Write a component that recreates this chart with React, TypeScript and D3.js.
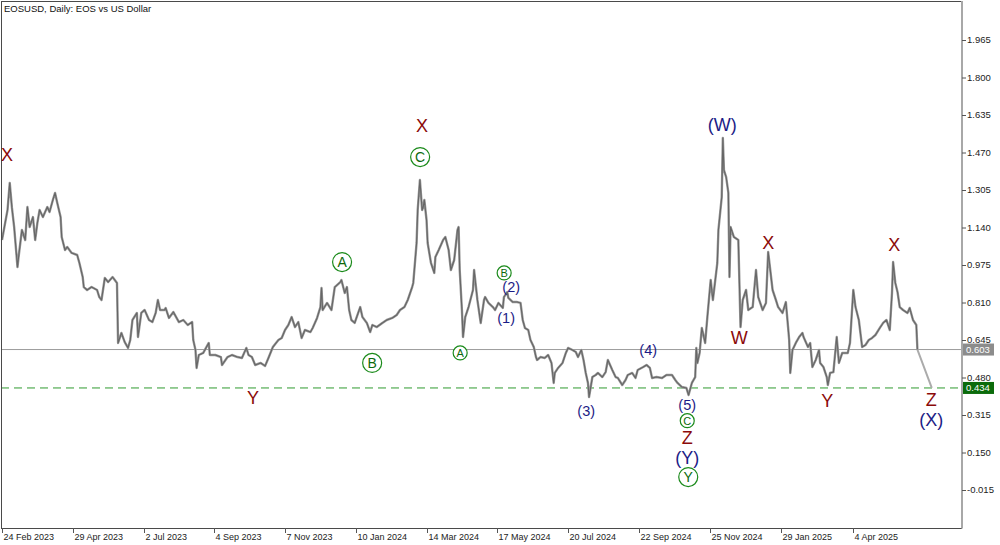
import React, { useEffect, useRef } from 'react'
import * as d3 from 'd3'

// days since 24 Feb 2023, daily closes
const dayOffsets = [
  0, 5, 7, 9, 11, 14, 15, 18, 21, 23, 25, 28, 30, 32, 34, 37, 41, 43, 46, 48, 50, 53, 54, 57, 59, 63, 68, 70, 73, 74,
  77, 81, 86, 88, 90, 93, 96, 100, 104, 105, 108, 111, 114, 116, 118, 122, 123, 126, 129,
  133, 136, 139, 141, 143, 147, 148, 151, 155, 160, 164, 168, 172, 173, 175, 176, 178, 182, 187, 188, 193, 198, 199,
  204, 208, 213, 217, 221, 223, 226, 229, 234, 238, 241, 245, 250, 253, 256, 259, 262, 265, 268, 271, 274, 279, 281,
  285, 288, 289, 290, 294, 298, 301, 306, 307, 310, 312, 314, 316, 319, 324, 326, 330, 333, 335, 339, 344, 348, 353,
  357, 360, 364, 367, 371, 372, 375, 376, 378, 380, 381, 382, 384, 385, 388,
  391, 392, 395, 399, 401, 404, 406, 409, 412, 413, 414, 416, 417, 419, 422, 426, 427, 430, 433, 436, 437, 440, 444,
  446, 449, 453, 454, 457, 458, 462, 466, 469, 471, 473, 476, 478, 481, 483, 484, 487, 491, 494, 497, 499, 500, 503,
  507, 510, 512, 516, 519, 521, 524, 526, 528, 530, 531, 534, 537, 539, 543, 546, 548, 552, 555, 557, 561, 564, 566,
  570, 573, 575, 580, 583, 586, 588, 592, 597, 601, 606, 609, 611, 615, 619, 621, 624, 627, 628, 629, 631, 633, 636,
  638, 641, 643, 647, 648,
  651, 652, 653, 655, 657, 658, 659, 662, 666, 667, 668, 670, 673, 675, 679, 682, 684, 688, 691, 693, 697, 700, 702,
  706, 709, 711, 712, 713, 715, 718, 721, 724, 725, 729, 731, 733, 736, 739, 740, 743, 746, 747, 749, 752, 755, 757,
  760, 765, 767, 770, 772, 775, 778, 781, 784, 787, 790, 794, 797, 800, 803, 805, 806, 808, 810, 812, 815, 819, 821,
  824, 827, 828,
]
const closes = [
  1.085, 1.217, 1.336, 1.226, 1.142, 0.966, 1.01, 1.129, 1.085, 1.23, 1.142, 1.186, 1.085, 1.16, 1.217, 1.186, 1.23,
  1.208, 1.261, 1.292, 1.248, 1.186, 1.098, 1.041, 1.054, 1.028, 1.019, 0.984, 0.922, 0.878,
  0.865, 0.878, 0.865, 0.834, 0.821, 0.918, 0.9, 0.922, 0.896, 0.632, 0.676, 0.636, 0.61, 0.645, 0.733, 0.764, 0.658,
  0.764, 0.777,
  0.733, 0.724, 0.764, 0.821, 0.777, 0.777, 0.786, 0.742, 0.768, 0.724, 0.733, 0.711, 0.724, 0.645, 0.601, 0.522,
  0.579, 0.588, 0.632, 0.579, 0.579, 0.57, 0.535,
  0.57, 0.579, 0.57, 0.566, 0.61, 0.579, 0.57, 0.535, 0.544, 0.531, 0.566, 0.614, 0.645, 0.654, 0.689, 0.711, 0.746,
  0.702, 0.724, 0.654, 0.689, 0.68, 0.698,
  0.742, 0.79, 0.874, 0.777, 0.808, 0.777, 0.878, 0.9, 0.909, 0.852, 0.878, 0.777, 0.733, 0.72, 0.79, 0.746, 0.72,
  0.68, 0.711, 0.702, 0.72, 0.733, 0.742,
  0.755, 0.777, 0.79, 0.821, 0.878, 0.896, 1.072, 1.217, 1.349, 1.217, 1.23, 1.261, 1.173, 1.072, 0.984,
  0.94, 1.01, 1.041, 1.085, 1.098, 1.041, 0.953, 0.997, 1.129, 1.142, 0.953, 0.777, 0.658, 0.746, 0.79, 0.865, 0.953,
  0.821, 0.72, 0.821, 0.834, 0.808, 0.79,
  0.777, 0.808, 0.786, 0.834, 0.856, 0.83, 0.812, 0.812, 0.808, 0.733, 0.698, 0.689, 0.645, 0.614, 0.57, 0.557, 0.57,
  0.566, 0.579, 0.544, 0.456, 0.5, 0.522,
  0.544, 0.588, 0.61, 0.601, 0.592, 0.57, 0.601, 0.557, 0.5, 0.456, 0.394, 0.482, 0.491, 0.5, 0.482, 0.504, 0.557,
  0.513, 0.482, 0.478, 0.447, 0.469, 0.491,
  0.5, 0.478, 0.513, 0.526, 0.535, 0.522, 0.478, 0.482, 0.478, 0.491, 0.491, 0.469, 0.456, 0.438, 0.434, 0.403, 0.456,
  0.482, 0.61, 0.544, 0.588, 0.698, 0.632,
  0.746, 0.909, 0.821, 0.984, 1.129,
  1.274, 1.534, 1.393, 1.362, 1.292, 0.922, 1.142, 1.098, 1.085, 0.896, 0.702, 0.821, 0.865, 0.777, 0.79, 0.953, 0.834,
  0.777, 0.808, 1.032, 0.865, 0.821, 0.79,
  0.764, 0.812, 0.702, 0.645, 0.5, 0.601, 0.632, 0.658, 0.676, 0.658, 0.614, 0.632, 0.526, 0.557, 0.601, 0.544, 0.526,
  0.482, 0.447, 0.5, 0.504, 0.658, 0.544,
  0.588, 0.588, 0.632, 0.865, 0.79, 0.733, 0.614, 0.623, 0.645, 0.654, 0.667, 0.698, 0.72, 0.733, 0.689, 0.852, 0.988,
  0.896, 0.856, 0.79, 0.777, 0.764, 0.786,
  0.733, 0.711, 0.603,
]

const priceTicks = [1.965, 1.8, 1.635, 1.47, 1.305, 1.14, 0.975, 0.81, 0.645, 0.48, 0.315, 0.15, -0.015]
const dateTicks = [
  '2023-02-24', '2023-04-29', '2023-07-02', '2023-09-04', '2023-11-07', '2024-01-10', '2024-03-14',
  '2024-05-17', '2024-07-20', '2024-09-22', '2024-11-25', '2025-01-29', '2025-04-04',
]
const lastPrice = 0.603
const targetLevel = 0.434
const targetDay = 841

// wave count labels: text, day offset, price, style
type Mark = { t: string; d: number; p: number; k: string }
const waveLabels: Mark[] = [
  { t: 'X', d: 4.5, p: 1.459, k: 'red' },
  { t: 'Y', d: 227, p: 0.394, k: 'red' },
  { t: 'A', d: 307.6, p: 0.988, k: 'circ' },
  { t: 'B', d: 334.8, p: 0.544, k: 'circ' },
  { t: 'X', d: 380, p: 1.587, k: 'red' },
  { t: 'C', d: 378.2, p: 1.45, k: 'circ' },
  { t: 'A', d: 414.4, p: 0.588, k: 'circS' },
  { t: 'B', d: 454.2, p: 0.94, k: 'circS' },
  { t: '(2)', d: 460.6, p: 0.878, k: 'navyS' },
  { t: '(1)', d: 456, p: 0.742, k: 'navyS' },
  { t: '(3)', d: 528.4, p: 0.333, k: 'navyS' },
  { t: '(4)', d: 584.5, p: 0.601, k: 'navyS' },
  { t: '(5)', d: 619.8, p: 0.362, k: 'navyS' },
  { t: 'C', d: 619.8, p: 0.29, k: 'circS' },
  { t: 'Z', d: 619.8, p: 0.215, k: 'red' },
  { t: '(Y)', d: 619.8, p: 0.13, k: 'navy' },
  { t: 'Y', d: 620.7, p: 0.042, k: 'circ' },
  { t: '(W)', d: 651.5, p: 1.591, k: 'navy' },
  { t: 'X', d: 693, p: 1.076, k: 'red' },
  { t: 'W', d: 666.8, p: 0.654, k: 'red' },
  { t: 'Y', d: 746.5, p: 0.377, k: 'red' },
  { t: 'X', d: 807, p: 1.067, k: 'red' },
  { t: 'Z', d: 840.6, p: 0.385, k: 'red' },
  { t: '(X)', d: 840.6, p: 0.293, k: 'navy' },
]

export default function App() {
  const ref = useRef<SVGSVGElement | null>(null)

  useEffect(() => {
    const svg = d3.select(ref.current!)
    svg.selectAll('*').remove()
    const width = 1000
    const height = 545
    const left = 1
    const right = 962
    const top = 1
    const bottom = 528
    const font = '"Liberation Sans", Arial, sans-serif'

    const parse = d3.utcParse('%Y-%m-%d')
    const start = parse('2023-02-24')!
    const tickDates = dateTicks.map(s => parse(s)!)
    const x = d3.scaleUtc().domain([start, tickDates[tickDates.length - 1]]).range([2, 853.3])
    const y = d3.scaleLinear().domain([-0.015, 1.965]).range([490, 40])
    const at = (d: number) => x(d3.utcDay.offset(start, Math.floor(d))) + (d % 1) * (x(d3.utcDay.offset(start, 1)) - x(start))

    svg.append('rect').attr('width', width).attr('height', height).attr('fill', '#fff')

    // price levels
    svg.append('line').attr('x1', left).attr('x2', right).attr('y1', y(lastPrice)).attr('y2', y(lastPrice))
      .attr('stroke', '#9c9c9c').attr('stroke-width', 1)
    svg.append('line').attr('x1', left).attr('x2', right).attr('y1', y(targetLevel)).attr('y2', y(targetLevel))
      .attr('stroke', '#2f9a2f').attr('stroke-width', 1).attr('stroke-dasharray', '8,5')

    // price series
    const pts = dayOffsets.map((d, i) => [at(d), y(closes[i])] as [number, number])
    svg.append('path').attr('d', d3.line()(pts)!).attr('fill', 'none')
      .attr('stroke', '#9a9a9a').attr('stroke-width', 2.4).attr('stroke-linejoin', 'round')
    svg.append('path').attr('d', d3.line()(pts)!).attr('fill', 'none')
      .attr('stroke', '#666').attr('stroke-width', 1.1).attr('stroke-linejoin', 'round')

    // projected leg
    svg.append('line')
      .attr('x1', at(dayOffsets[dayOffsets.length - 1])).attr('y1', y(lastPrice))
      .attr('x2', at(targetDay)).attr('y2', y(targetLevel))
      .attr('stroke', '#ababab').attr('stroke-width', 2)

    // frame
    svg.append('rect').attr('x', left + 0.5).attr('y', top + 0.5).attr('width', right - left - 1).attr('height', bottom - top)
      .attr('fill', 'none').attr('stroke', '#4a4a4a')
    svg.append('line').attr('x1', right).attr('x2', right).attr('y1', top).attr('y2', bottom + 0.5)
      .attr('stroke', '#a8a8a8').attr('stroke-width', 2)

    // right axis
    const ya = svg.append('g')
    priceTicks.forEach(v => {
      ya.append('line').attr('x1', right).attr('x2', right + 4).attr('y1', y(v) + 0.5).attr('y2', y(v) + 0.5).attr('stroke', '#555')
      ya.append('text').attr('x', right + 5).attr('y', y(v)).attr('dy', '0.35em')
        .attr('font-family', font).attr('font-size', 9.5).attr('fill', '#222').text(v.toFixed(3))
    })
    const tag = (v: number, fill: string) => {
      ya.append('rect').attr('x', right + 1).attr('y', y(v) - 6).attr('width', 31).attr('height', 12).attr('fill', fill)
      ya.append('text').attr('x', right + 4).attr('y', y(v)).attr('dy', '0.35em')
        .attr('font-family', font).attr('font-size', 9.5).attr('fill', '#fff').text(v.toFixed(3))
    }
    tag(lastPrice, '#8c8c8c')
    tag(targetLevel, '#0b6b0b')

    // bottom axis
    const xa = svg.append('g')
    const fmt = d3.utcFormat('%-d %b %Y')
    tickDates.forEach(dt => {
      const px = Math.round(x(dt)) + 0.5
      xa.append('line').attr('x1', px).attr('x2', px).attr('y1', bottom).attr('y2', bottom + 5).attr('stroke', '#555')
      xa.append('text').attr('x', px + 1).attr('y', 540).attr('font-family', font).attr('font-size', 9)
        .attr('fill', '#222').text(fmt(dt))
    })

    // title
    svg.append('text').attr('x', 4).attr('y', 12).attr('font-family', font).attr('font-size', 9.5).attr('fill', '#111')
      .text('EOSUSD, Daily:  EOS vs US Dollar')

    // wave labels
    const g = svg.append('g').attr('font-family', font).attr('text-anchor', 'middle')
    waveLabels.forEach(m => {
      const cx = at(m.d)
      const cy = y(m.p)
      if (m.k === 'circ' || m.k === 'circS') {
        const r = m.k === 'circ' ? 9.5 : 7
        g.append('circle').attr('cx', cx).attr('cy', cy).attr('r', r).attr('fill', '#fff')
          .attr('stroke', '#1a8a1a').attr('stroke-width', 1.2)
        g.append('text').attr('x', cx).attr('y', cy).attr('dy', '0.36em').attr('font-size', m.k === 'circ' ? 14 : 11)
          .attr('fill', '#0d6a0d').text(m.t)
      } else {
        const color = m.k === 'red' ? '#8b0a0a' : '#1c1c86'
        const size = m.k === 'navyS' ? 14.5 : 18
        g.append('text').attr('x', cx).attr('y', cy).attr('dy', '0.36em').attr('font-size', size)
          .attr('fill', color).text(m.t)
      }
    })
  }, [])

  return <svg ref={ref} width={1000} height={545} style={{ position: 'fixed', left: 0, top: 0 }} />
}
